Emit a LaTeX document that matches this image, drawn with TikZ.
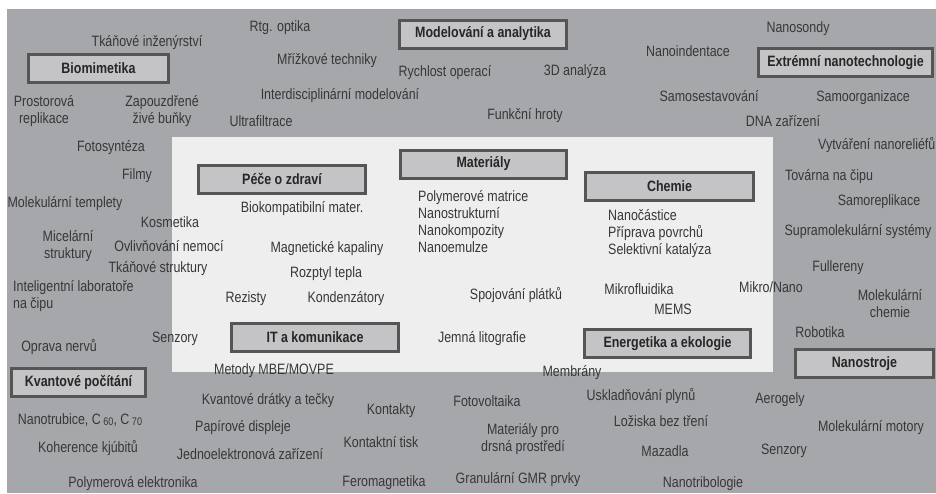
\documentclass[tikz,border=0pt]{standalone}
\usepackage{fontspec}
\setmainfont{Liberation Sans}[FakeStretch=0.83]
\definecolor{bgc}{RGB}{166,167,171}
\definecolor{panelc}{RGB}{238,238,238}
\definecolor{boxc}{RGB}{196,196,198}
\definecolor{bordc}{RGB}{85,85,85}
\definecolor{txtc}{RGB}{55,55,55}
\definecolor{boldc}{RGB}{38,38,38}
\newcommand{\subnum}[1]{\,\raisebox{-1.5pt}{\fontsize{11}{11}\selectfont #1}}
\begin{document}
\begin{tikzpicture}[x=1pt,y=-1pt,
  lbl/.style={font=\fontsize{15}{17}\selectfont, text=txtc, inner sep=0pt},
  one/.style={lbl, text height=11pt, text depth=3pt},
  multi/.style={lbl, align=center},
  leftblk/.style={lbl, align=left, anchor=west},
  catbox/.style={draw=bordc, line width=3pt, fill=boxc,
    font=\fontsize{15}{17}\selectfont\bfseries, text=boldc, inner sep=0pt,
    minimum height=28pt}]
\useasboundingbox (0,0) rectangle (936,493);
\fill[bgc] (7,9) rectangle (936,493);
\fill[panelc] (172,137) rectangle (773,372);
% top area
\node[one] (rtg) at (280,27) {Rtg. optika};
\node[one] (tkinz) at (147,42) {Tkáňové inženýrství};
\node[catbox, minimum width=140pt] (biom) at (98.5,68) {Biomimetika};
\node[one] (mriz) at (327,60) {Mřížkové techniky};
\node[catbox, minimum width=167pt] (model) at (483,34) {Modelování a analytika};
\node[one] (rych) at (445,72) {Rychlost operací};
\node[one] (an3d) at (575,71) {3D analýza};
\node[one] (inter) at (340,95) {Interdisciplinární modelování};
\node[one] (funk) at (525,115) {Funkční hroty};
\node[multi] (prost) at (44,111) {Prostorová\\replikace};
\node[multi] (zapo) at (162,111) {Zapouzdřené\\živé buňky};
\node[one] (ultra) at (261,122) {Ultrafiltrace};
\node[one] (foto) at (111,147) {Fotosyntéza};
\node[one] (nsond) at (798,28) {Nanosondy};
\node[one] (nind) at (688,52) {Nanoindentace};
\node[catbox, minimum width=174pt] (extr) at (845.5,62.5) {Extrémní nanotechnologie};
\node[one] (samos) at (709,97) {Samosestavování};
\node[one] (samoo) at (863,97) {Samoorganizace};
\node[one] (dna) at (783,122) {DNA zařízení};
\node[one, anchor=west] (vytv) at (818,145) {Vytváření nanoreliéfů};
% middle area
\node[catbox, minimum width=167pt] (pece) at (282,179) {Péče o zdraví};
\node[catbox, minimum width=166pt] (mat) at (483.5,164) {Materiály};
\node[catbox, minimum width=168pt] (chem) at (669.5,186) {Chemie};
\node[one] (filmy) at (137,175) {Filmy};
\node[one] (moltem) at (65,203) {Molekulární templety};
\node[one] (bioko) at (302,208) {Biokompatibilní mater.};
\node[leftblk] (matlist) at (418,222) {Polymerové matrice\\Nanostrukturní\\Nanokompozity\\Nanoemulze};
\node[leftblk] (chemlist) at (608,234) {Nanočástice\\Příprava povrchů\\Selektivní katalýza};
\node[one] (kosm) at (170,223) {Kosmetika};
\node[multi] (mice) at (68,246) {Micelární\\struktury};
\node[one] (ovliv) at (169,247) {Ovlivňování nemocí};
\node[one] (magn) at (327,248) {Magnetické kapaliny};
\node[one] (tkstr) at (158,268) {Tkáňové struktury};
\node[one] (rozp) at (326,273) {Rozptyl tepla};
\node[leftblk] (intel) at (13,296.5) {Inteligentní laboratoře\\na čipu};
\node[one] (rez) at (246,298) {Rezisty};
\node[one] (kond) at (346,298) {Kondenzátory};
\node[one] (spoj) at (516,295) {Spojování plátků};
\node[one] (mikf) at (639,290) {Mikrofluidika};
\node[one] (mems) at (673,310) {MEMS};
\node[one] (mikn) at (771,288) {Mikro/Nano};
\node[one] (tovar) at (829,176) {Továrna na čipu};
\node[one] (samor) at (879,201) {Samoreplikace};
\node[one] (supra) at (858,231) {Supramolekulární systémy};
\node[one] (fuller) at (838,267) {Fullereny};
\node[multi] (molch) at (890,304) {Molekulární\\chemie};
\node[one] (robot) at (820,333) {Robotika};
\node[catbox, minimum width=138pt] (nstroj) at (864.5,363.5) {Nanostroje};
\node[catbox, minimum width=167pt] (itkom) at (315,337.5) {IT a komunikace};
\node[catbox, minimum width=166pt] (energ) at (667.5,343.5) {Energetika a ekologie};
\node[one] (jemna) at (482,338) {Jemná litografie};
\node[one] (senz1) at (175,338) {Senzory};
\node[one] (oprava) at (59,347) {Oprava nervů};
\node[catbox, minimum width=134pt] (kvant) at (78.5,382) {Kvantové počítání};
\node[one] (metody) at (274,370) {Metody MBE/MOVPE};
\node[one] (membr) at (572,372) {Membrány};
% bottom area
\node[one] (nanotr) at (80,420) {Nanotrubice, C\subnum{60}, C\subnum{70}};
\node[one] (kvdr) at (268,400) {Kvantové drátky a tečky};
\node[one] (papir) at (243,427) {Papírové displeje};
\node[one] (koher) at (88,448) {Koherence kjúbitů};
\node[one] (jedno) at (250,455) {Jednoelektronová zařízení};
\node[one] (polyel) at (133,483) {Polymerová elektronika};
\node[one] (ferom) at (384,482) {Feromagnetika};
\node[one] (kontak) at (391,410) {Kontakty};
\node[one] (ktisk) at (381,443) {Kontaktní tisk};
\node[one] (fotov) at (487,402) {Fotovoltaika};
\node[multi] (matdrs) at (523,439) {Materiály pro\\drsná prostředí};
\node[one] (gmr) at (518,479) {Granulární GMR prvky};
\node[one] (uskl) at (641,396) {Uskladňování plynů};
\node[one] (lozis) at (661,422) {Ložiska bez tření};
\node[one] (mazad) at (665,452) {Mazadla};
\node[one] (ntrib) at (703,483) {Nanotribologie};
\node[one] (aerog) at (780,399) {Aerogely};
\node[one] (senz2) at (784,450) {Senzory};
\node[one] (molmot) at (871,427) {Molekulární motory};
\end{tikzpicture}
\end{document}
